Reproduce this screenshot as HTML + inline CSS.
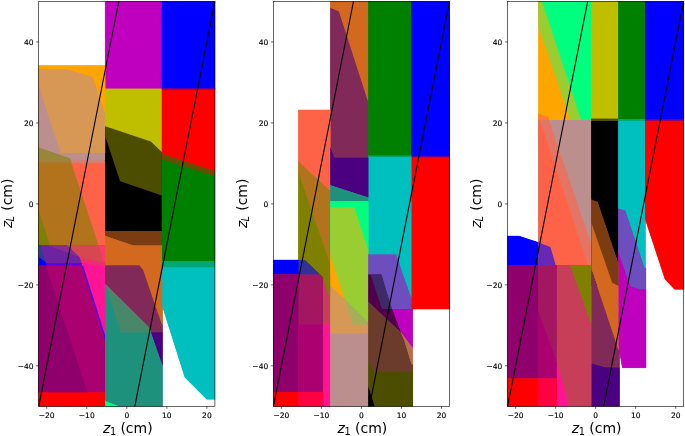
<!DOCTYPE html>
<html><head><meta charset="utf-8"><title>zL vs z1</title>
<style>
html,body{margin:0;padding:0;background:#fff;}
svg{display:block;}
text{font-family:"DejaVu Sans","Liberation Sans",sans-serif;fill:#000;}
.t{font-size:7.5px;stroke:#000;stroke-width:0.15px;}
.l{font-size:14px;}
</style></head><body>
<svg width="685" height="436" viewBox="0 0 685 436">
<rect width="685" height="436" fill="#fff"/>
<defs><mask id="u" maskUnits="userSpaceOnUse" x="0" y="0" width="685" height="436"><g fill="#fff" stroke="#fff" stroke-width="0.5">
<polygon points="105.25,1.5 161.85,1.5 161.85,88.7 105.25,88.7"/>
<polygon points="161.85,1.5 214.9,1.5 214.9,88.7 161.85,88.7"/>
<polygon points="38.7,65.6 105.25,65.6 105.25,152.9 38.7,152.9"/>
<polygon points="38.7,68.9 66.7,68.9 92.8,77 105.25,113.7 105.25,152.9 60.8,152.9 38.7,85.8"/>
<polygon points="38.7,85.8 60.8,152.9 105.25,152.9 105.25,160.5 38.7,160.5"/>
<polygon points="38.7,160.5 105.25,160.5 105.25,162.9 38.7,162.9"/>
<polygon points="38.7,162.9 105.25,162.9 105.25,244.9 38.7,244.9"/>
<polygon points="66.6,244.9 105.25,244.9 105.25,338 79.3,257.1"/>
<polygon points="38.7,147.6 70.3,158.2 71,160.5 38.7,160.5"/>
<polygon points="38.7,160.5 71,160.5 71.4,162.9 38.7,162.9"/>
<polygon points="38.7,162.9 71.4,162.9 98.5,244.9 38.7,244.9"/>
<polygon points="98.5,244.9 105.25,244.9 105.25,263.2 103.3,262.6"/>
<polygon points="79.5,257.5 103.3,262.6 105.25,263.2 105.25,267 81.5,262.5"/>
<polygon points="66.6,244.9 98.5,244.9 103.3,262.6 79.5,257.5"/>
<polygon points="38.7,210.5 49.7,244.9 38.7,244.9"/>
<polygon points="38.7,255 47.5,262.5 47.5,265.7 38.7,265.7"/>
<polygon points="38.7,244.9 40.6,244.9 45.7,262.2 38.7,257"/>
<polygon points="40.6,244.9 66.6,244.9 79.3,257.1 81.5,263.2 46,263.2"/>
<polygon points="47,244.9 66.6,244.9 79.3,257.1"/>
<polygon points="46,263.2 82,263.2 82,265.7 46,265.7"/>
<polygon points="38.7,265.7 82.2,265.7 105.25,338 105.25,392.4 38.7,392.4"/>
<polygon points="81.7,265.7 83.2,265.7 105.25,335.5 105.25,339.5 104.6,339.5"/>
<polygon points="38.7,265.7 46,265.7 87.3,391.7 87.3,392.4 38.7,392.4"/>
<polygon points="38.7,392.4 105.25,392.4 105.25,406.3 38.7,406.3"/>
<polygon points="105.25,88.7 161.85,88.7 161.85,153 105.25,153"/>
<polygon points="105.25,127 150.8,142.5 161.85,153 161.85,230.9 105.25,230.9"/>
<polygon points="105.25,126.3 150.8,141.5 161.85,152 161.85,195.4 120.1,181.2 105.25,136.3"/>
<polygon points="161.85,88.7 214.9,88.7 214.9,171.3 161.85,153.8"/>
<polygon points="161.85,88 214.9,88 214.9,89.5 161.85,89.5"/>
<polygon points="161.85,153.8 214.9,171.3 214.9,176.5 161.85,159.6"/>
<polygon points="161.85,159.6 214.9,176.5 214.9,261.2 161.85,261.2"/>
<polygon points="105.25,230.9 161.85,230.9 161.85,245.4 133.3,245.4 105.25,236.1"/>
<polygon points="105.25,236.1 133.3,245.4 161.85,245.4 161.85,261.2 162.5,261.2 162.5,326.3 156.6,310 143,270 139.4,265.5 105.25,265.5"/>
<polygon points="105.25,265.5 139.4,265.5 143,270 156.6,310 162.5,326.3 162.5,332.4 151.2,332.4 149.7,327.9 105.25,284"/>
<polygon points="105.25,284 149.7,327.9 151.2,332.4 120.7,332.4"/>
<polygon points="105.25,284 120.7,332.4 151.2,332.4 162.5,365 162.5,406.3 105.25,406.3"/>
<polygon points="151.2,332.4 162.5,332.4 162.5,365"/>
<polygon points="105.25,400.9 119.3,406.3 105.25,406.3"/>
<polygon points="161.85,261.2 214.9,261.2 214.9,267.6 161.85,267.6"/>
<polygon points="162.3,267.6 214.9,267.6 214.9,399.2 206.8,399.2 184.9,377.3 162.3,305.9"/>
<polygon points="330.4,1.5 368.3,1.5 368.3,103 338.8,11.4 330.4,7.9"/>
<polygon points="330.4,7.9 338.8,11.4 368.3,103 368.3,157.7 334.2,157.7 330.4,147.5"/>
<polygon points="368.3,1.5 411.3,1.5 411.3,156.3 368.3,156.3"/>
<polygon points="411.3,1.5 449.5,1.5 449.5,156.5 411.3,156.5"/>
<polygon points="411.3,156.5 449.5,156.5 449.5,309.1 411.3,309.1"/>
<polygon points="411.3,155.8 449.5,155.8 449.5,157.2 411.3,157.2"/>
<polygon points="368.3,156.3 411.3,156.3 411.3,298.4 396.1,254.4 368.3,254.4"/>
<polygon points="368.3,155.6 411.3,155.6 411.3,157 368.3,157"/>
<polygon points="298.4,109.9 330.4,109.9 330.4,191 298.4,161.5"/>
<polygon points="298.4,161.5 330.4,191 330.4,265 298.4,172.8"/>
<polygon points="298.4,274.2 323.2,274.2 323.2,324.5 298.4,324.5"/>
<polygon points="323.2,274.2 330.4,274.2 330.4,324.5 323.2,324.5"/>
<polygon points="298.4,260 305.4,260 320.5,274.2 298.4,274.2"/>
<polygon points="298.4,172.8 330.4,265 330.4,300 322.8,277.1 305.4,260 298.4,260"/>
<polygon points="273.4,260 298.4,260 298.4,274.2 273.4,274.2"/>
<polygon points="273.4,274.2 298.4,274.2 298.4,392 273.4,392"/>
<polygon points="298.4,324.5 323.2,324.5 323.2,392 298.4,392"/>
<polygon points="323.2,324.5 330.4,324.5 330.4,406.3 323.2,406.3"/>
<polygon points="273.4,392 298.4,392 298.4,406.3 273.4,406.3"/>
<polygon points="298.4,392 323.2,392 323.2,406.3 298.4,406.3"/>
<polygon points="330.4,147.5 334.2,157.7 368.3,157.7 368.3,197.4 330.4,185.2"/>
<polygon points="330.4,185.2 368.3,197.4 368.3,201.2 330.4,201.2"/>
<polygon points="330.4,201.2 368.3,201.2 368.3,250.4 330.4,250.4"/>
<polygon points="330.4,207.2 354.3,207.2 368.3,250.4 368.3,322.7 344.7,299 330.4,257"/>
<polygon points="330.4,257 344.7,299 330.4,285.9"/>
<polygon points="330.4,285.9 344.7,299 353.1,324.5 368.3,324.5 368.3,333.6 330.4,333.6"/>
<polygon points="344.7,299 368.3,322.7 368.3,324.5 353.1,324.5"/>
<polygon points="330.4,333.6 368.3,333.6 368.3,406.3 330.4,406.3"/>
<polygon points="368.3,254.4 396.1,254.4 411.3,298.4 411.3,309 368.3,309"/>
<polygon points="392,309 412.6,309 412.6,348 400.8,332.3"/>
<polygon points="368.3,274.5 381,274.5 391.5,309 392,309 400.8,332.3 368.3,302.1"/>
<polygon points="370.6,274.5 381.5,274.5 392,309 382,309"/>
<polygon points="368.3,302.1 400.8,332.3 404.2,340 411.5,364.2 412.8,364.2 412.8,371.6 373.4,371.6 368.3,359.8"/>
<polygon points="400.8,332.3 412.6,348 412.8,364.2 411.5,364.2 404.2,340"/>
<polygon points="368.3,359.8 373.4,371.6 412.8,371.6 412.8,406.3 374.5,406.3 368.3,387"/>
<polygon points="368.3,387 374.5,406.3 368.3,406.3"/>
<polygon points="538.5,1.5 591.3,1.5 591.3,119.9 538.5,119.9"/>
<polygon points="541,1.5 591.3,1.5 591.3,119.9 571,119.9 539.5,29"/>
<polygon points="538.5,1.5 542,1.5 581.1,119.9 570.2,119.9 538.5,26.3"/>
<polygon points="591.3,1.5 618.3,1.5 618.3,119 591.3,119"/>
<polygon points="618.3,1.5 645,1.5 645,119.4 618.3,119.4"/>
<polygon points="645,1.5 683.7,1.5 683.7,119.5 645,119.5"/>
<polygon points="538.5,113.8 548.2,117 549,119.9 538.5,119.9"/>
<polygon points="538.5,119.9 591.3,119.9 591.3,265 538.5,265"/>
<polygon points="538.5,119.9 540.3,119.9 588.3,265 538.5,265"/>
<polygon points="540.3,119.9 549,119.9 591.3,244.3 591.3,265 588.3,265"/>
<polygon points="591.3,121 618.3,121 618.3,286 591.3,286"/>
<polygon points="591.3,118.6 618.3,118.6 618.3,121 591.3,121"/>
<polygon points="618.3,120.5 645.2,120.5 645.5,268 644.5,268 625.4,210.8 618.3,208.6"/>
<polygon points="618.3,119 645,119 645,120.6 618.3,120.6"/>
<polygon points="645.2,120.3 683.7,120.3 683.7,289.3 674.6,289.3 665,279 645.2,218.9"/>
<polygon points="645,119 683.7,119 683.7,120.6 645,120.6"/>
<polygon points="618.3,208.6 625.4,210.8 644.5,268 645.9,268 645.9,289.3 639.3,289.3 630.5,286.4 618.3,252.6"/>
<polygon points="618.3,252.6 630.5,286.4 639.3,289.3 646,289.3 646,367.8 622.4,367.8 618.3,345"/>
<polygon points="591.3,200 597.5,202.3 618.3,264 618.3,350 591.3,269.3"/>
<polygon points="591.3,199.4 597.5,201.7 618.3,263 618.3,285.7 612.2,282.7 591.3,222.6"/>
<polygon points="591.3,269.3 618.3,350 619.5,350 619.5,367.8 605.1,367.4 591.3,363.4"/>
<polygon points="591.3,363.4 605.1,367.4 619.5,367.8 619.5,406.3 591.3,406.3"/>
<polygon points="507.6,236.1 518.9,236.1 538.5,242.5 538.5,265 507.6,265"/>
<polygon points="538.5,242.5 550.4,246.9 555.7,265 538.5,265"/>
<polygon points="507.6,265 538.5,265 538.5,378.5 507.6,378.5"/>
<polygon points="538.5,265 556.9,265 556.9,362.5 538.5,311.8"/>
<polygon points="538.5,311.8 556.9,362.5 556.9,378.5 538.5,378.5"/>
<polygon points="556.9,265 570,265 591.3,323.6 591.3,406.3 568.7,406.3 556.9,362.5"/>
<polygon points="570,265 591.3,265 591.3,323.6"/>
<polygon points="556.9,362.5 568.7,406.3 556.9,406.3"/>
<polygon points="507.6,378.5 538.5,378.5 538.5,406.3 507.6,406.3"/>
<polygon points="538.5,378.5 556.9,378.5 556.9,406.3 538.5,406.3"/>
</g></mask></defs>
<g mask="url(#u)" stroke-width="1.6" stroke-linejoin="round">
<polygon points="105.25,1.5 161.85,1.5 161.85,88.7 105.25,88.7" fill="#bf00bf" stroke="#bf00bf"/>
<polygon points="161.85,1.5 214.9,1.5 214.9,88.7 161.85,88.7" fill="#0000ff" stroke="#0000ff"/>
<polygon points="38.7,65.6 105.25,65.6 105.25,152.9 38.7,152.9" fill="#ffa500" stroke="#ffa500"/>
<polygon points="38.7,68.9 66.7,68.9 92.8,77 105.25,113.7 105.25,152.9 60.8,152.9 38.7,85.8" fill="#d79856" stroke="#d79856"/>
<polygon points="38.7,85.8 60.8,152.9 105.25,152.9 105.25,160.5 38.7,160.5" fill="#bc8f8f" stroke="#bc8f8f"/>
<polygon points="38.7,160.5 105.25,160.5 105.25,162.9 38.7,162.9" fill="#d77d72" stroke="#d77d72"/>
<polygon points="38.7,162.9 105.25,162.9 105.25,244.9 38.7,244.9" fill="#ff6347" stroke="#ff6347"/>
<polygon points="66.6,244.9 105.25,244.9 105.25,338 79.3,257.1" fill="#ff1493" stroke="#ff1493"/>
<polygon points="38.7,147.6 70.3,158.2 71,160.5 38.7,160.5" fill="#988639" stroke="#988639"/>
<polygon points="38.7,160.5 71,160.5 71.4,162.9 38.7,162.9" fill="#a37f2e" stroke="#a37f2e"/>
<polygon points="38.7,162.9 71.4,162.9 98.5,244.9 38.7,244.9" fill="#b1731c" stroke="#b1731c"/>
<polygon points="98.5,244.9 105.25,244.9 105.25,263.2 103.3,262.6" fill="#fa3a69" stroke="#fa3a69"/>
<polygon points="79.5,257.5 103.3,262.6 105.25,263.2 105.25,267 81.5,262.5" fill="#ee2d70" stroke="#ee2d70"/>
<polygon points="66.6,244.9 98.5,244.9 103.3,262.6 79.5,257.5" fill="#d64850" stroke="#d64850"/>
<polygon points="38.7,210.5 49.7,244.9 38.7,244.9" fill="#7f7f03" stroke="#7f7f03"/>
<polygon points="38.7,255 47.5,262.5 47.5,265.7 38.7,265.7" fill="#0000ff" stroke="#0000ff"/>
<polygon points="38.7,244.9 40.6,244.9 45.7,262.2 38.7,257" fill="#2d3c96" stroke="#2d3c96"/>
<polygon points="40.6,244.9 66.6,244.9 79.3,257.1 81.5,263.2 46,263.2" fill="#7023a0" stroke="#7023a0"/>
<polygon points="47,244.9 66.6,244.9 79.3,257.1" fill="#872d8c" stroke="#872d8c"/>
<polygon points="46,263.2 82,263.2 82,265.7 46,265.7" fill="#5a00e6" stroke="#5a00e6"/>
<polygon points="38.7,265.7 82.2,265.7 105.25,338 105.25,392.4 38.7,392.4" fill="#aa0070" stroke="#aa0070"/>
<polygon points="81.7,265.7 83.2,265.7 105.25,335.5 105.25,339.5 104.6,339.5" fill="#5a00e6" stroke="#5a00e6"/>
<polygon points="38.7,265.7 46,265.7 87.3,391.7 87.3,392.4 38.7,392.4" fill="#90006c" stroke="#90006c"/>
<polygon points="38.7,392.4 105.25,392.4 105.25,406.3 38.7,406.3" fill="#ff0000" stroke="#ff0000"/>
<polygon points="105.25,88.7 161.85,88.7 161.85,153 105.25,153" fill="#bfbf00" stroke="#bfbf00"/>
<polygon points="105.25,127 150.8,142.5 161.85,153 161.85,230.9 105.25,230.9" fill="#000000" stroke="#000000"/>
<polygon points="105.25,126.3 150.8,141.5 161.85,152 161.85,195.4 120.1,181.2 105.25,136.3" fill="#4d4d00" stroke="#4d4d00"/>
<polygon points="161.85,88.7 214.9,88.7 214.9,171.3 161.85,153.8" fill="#ff0000" stroke="#ff0000"/>
<polygon points="161.85,88 214.9,88 214.9,89.5 161.85,89.5" fill="#660099" stroke="#660099"/>
<polygon points="161.85,153.8 214.9,171.3 214.9,176.5 161.85,159.6" fill="#664d00" stroke="#664d00"/>
<polygon points="161.85,159.6 214.9,176.5 214.9,261.2 161.85,261.2" fill="#008000" stroke="#008000"/>
<polygon points="105.25,230.9 161.85,230.9 161.85,245.4 133.3,245.4 105.25,236.1" fill="#7a3c10" stroke="#7a3c10"/>
<polygon points="105.25,236.1 133.3,245.4 161.85,245.4 161.85,261.2 162.5,261.2 162.5,326.3 156.6,310 143,270 139.4,265.5 105.25,265.5" fill="#d2691e" stroke="#d2691e"/>
<polygon points="105.25,265.5 139.4,265.5 143,270 156.6,310 162.5,326.3 162.5,332.4 151.2,332.4 149.7,327.9 105.25,284" fill="#812a5a" stroke="#812a5a"/>
<polygon points="105.25,284 149.7,327.9 151.2,332.4 120.7,332.4" fill="#488868" stroke="#488868"/>
<polygon points="105.25,284 120.7,332.4 151.2,332.4 162.5,365 162.5,406.3 105.25,406.3" fill="#1e917d" stroke="#1e917d"/>
<polygon points="151.2,332.4 162.5,332.4 162.5,365" fill="#4b0082" stroke="#4b0082"/>
<polygon points="105.25,400.9 119.3,406.3 105.25,406.3" fill="#00ff7f" stroke="#00ff7f"/>
<polygon points="161.85,261.2 214.9,261.2 214.9,267.6 161.85,267.6" fill="#00a673" stroke="#00a673"/>
<polygon points="162.3,267.6 214.9,267.6 214.9,399.2 206.8,399.2 184.9,377.3 162.3,305.9" fill="#00bfbf" stroke="#00bfbf"/>
<polygon points="330.4,1.5 368.3,1.5 368.3,103 338.8,11.4 330.4,7.9" fill="#d2691e" stroke="#d2691e"/>
<polygon points="330.4,7.9 338.8,11.4 368.3,103 368.3,157.7 334.2,157.7 330.4,147.5" fill="#812a5a" stroke="#812a5a"/>
<polygon points="368.3,1.5 411.3,1.5 411.3,156.3 368.3,156.3" fill="#008000" stroke="#008000"/>
<polygon points="411.3,1.5 449.5,1.5 449.5,156.5 411.3,156.5" fill="#0000ff" stroke="#0000ff"/>
<polygon points="411.3,156.5 449.5,156.5 449.5,309.1 411.3,309.1" fill="#ff0000" stroke="#ff0000"/>
<polygon points="411.3,155.8 449.5,155.8 449.5,157.2 411.3,157.2" fill="#660099" stroke="#660099"/>
<polygon points="368.3,156.3 411.3,156.3 411.3,298.4 396.1,254.4 368.3,254.4" fill="#00bfbf" stroke="#00bfbf"/>
<polygon points="368.3,155.6 411.3,155.6 411.3,157 368.3,157" fill="#00a673" stroke="#00a673"/>
<polygon points="298.4,109.9 330.4,109.9 330.4,191 298.4,161.5" fill="#ff6347" stroke="#ff6347"/>
<polygon points="298.4,161.5 330.4,191 330.4,265 298.4,172.8" fill="#b1731c" stroke="#b1731c"/>
<polygon points="298.4,274.2 323.2,274.2 323.2,324.5 298.4,324.5" fill="#a31660" stroke="#a31660"/>
<polygon points="323.2,274.2 330.4,274.2 330.4,324.5 323.2,324.5" fill="#c63e58" stroke="#c63e58"/>
<polygon points="298.4,260 305.4,260 320.5,274.2 298.4,274.2" fill="#323296" stroke="#323296"/>
<polygon points="298.4,172.8 330.4,265 330.4,300 322.8,277.1 305.4,260 298.4,260" fill="#808000" stroke="#808000"/>
<polygon points="273.4,260 298.4,260 298.4,274.2 273.4,274.2" fill="#0000ff" stroke="#0000ff"/>
<polygon points="273.4,274.2 298.4,274.2 298.4,392 273.4,392" fill="#90006c" stroke="#90006c"/>
<polygon points="298.4,324.5 323.2,324.5 323.2,392 298.4,392" fill="#aa0070" stroke="#aa0070"/>
<polygon points="323.2,324.5 330.4,324.5 330.4,406.3 323.2,406.3" fill="#ff1493" stroke="#ff1493"/>
<polygon points="273.4,392 298.4,392 298.4,406.3 273.4,406.3" fill="#ff0000" stroke="#ff0000"/>
<polygon points="298.4,392 323.2,392 323.2,406.3 298.4,406.3" fill="#ff0040" stroke="#ff0040"/>
<polygon points="330.4,147.5 334.2,157.7 368.3,157.7 368.3,197.4 330.4,185.2" fill="#4b0082" stroke="#4b0082"/>
<polygon points="330.4,185.2 368.3,197.4 368.3,201.2 330.4,201.2" fill="#1e917d" stroke="#1e917d"/>
<polygon points="330.4,201.2 368.3,201.2 368.3,250.4 330.4,250.4" fill="#00ff7f" stroke="#00ff7f"/>
<polygon points="330.4,207.2 354.3,207.2 368.3,250.4 368.3,322.7 344.7,299 330.4,257" fill="#9acd32" stroke="#9acd32"/>
<polygon points="330.4,257 344.7,299 330.4,285.9" fill="#ffa500" stroke="#ffa500"/>
<polygon points="330.4,285.9 344.7,299 353.1,324.5 368.3,324.5 368.3,333.6 330.4,333.6" fill="#d79856" stroke="#d79856"/>
<polygon points="344.7,299 368.3,322.7 368.3,324.5 353.1,324.5" fill="#a5af5a" stroke="#a5af5a"/>
<polygon points="330.4,333.6 368.3,333.6 368.3,406.3 330.4,406.3" fill="#bc8f8f" stroke="#bc8f8f"/>
<polygon points="368.3,254.4 396.1,254.4 411.3,298.4 411.3,309 368.3,309" fill="#6e4ebe" stroke="#6e4ebe"/>
<polygon points="392,309 412.6,309 412.6,348 400.8,332.3" fill="#bf00bf" stroke="#bf00bf"/>
<polygon points="368.3,274.5 381,274.5 391.5,309 392,309 400.8,332.3 368.3,302.1" fill="#50004b" stroke="#50004b"/>
<polygon points="370.6,274.5 381.5,274.5 392,309 382,309" fill="#3c2a69" stroke="#3c2a69"/>
<polygon points="368.3,302.1 400.8,332.3 404.2,340 411.5,364.2 412.8,364.2 412.8,371.6 373.4,371.6 368.3,359.8" fill="#6b3c2b" stroke="#6b3c2b"/>
<polygon points="400.8,332.3 412.6,348 412.8,364.2 411.5,364.2 404.2,340" fill="#b96e4b" stroke="#b96e4b"/>
<polygon points="368.3,359.8 373.4,371.6 412.8,371.6 412.8,406.3 374.5,406.3 368.3,387" fill="#4d4d00" stroke="#4d4d00"/>
<polygon points="368.3,387 374.5,406.3 368.3,406.3" fill="#000000" stroke="#000000"/>
<polygon points="538.5,1.5 591.3,1.5 591.3,119.9 538.5,119.9" fill="#ffa500" stroke="#ffa500"/>
<polygon points="541,1.5 591.3,1.5 591.3,119.9 571,119.9 539.5,29" fill="#00ff7f" stroke="#00ff7f"/>
<polygon points="538.5,1.5 542,1.5 581.1,119.9 570.2,119.9 538.5,26.3" fill="#9acd32" stroke="#9acd32"/>
<polygon points="591.3,1.5 618.3,1.5 618.3,119 591.3,119" fill="#bfbf00" stroke="#bfbf00"/>
<polygon points="618.3,1.5 645,1.5 645,119.4 618.3,119.4" fill="#008000" stroke="#008000"/>
<polygon points="645,1.5 683.7,1.5 683.7,119.5 645,119.5" fill="#0000ff" stroke="#0000ff"/>
<polygon points="538.5,113.8 548.2,117 549,119.9 538.5,119.9" fill="#ff7d2b" stroke="#ff7d2b"/>
<polygon points="538.5,119.9 591.3,119.9 591.3,265 538.5,265" fill="#bc8f8f" stroke="#bc8f8f"/>
<polygon points="538.5,119.9 540.3,119.9 588.3,265 538.5,265" fill="#ff6347" stroke="#ff6347"/>
<polygon points="540.3,119.9 549,119.9 591.3,244.3 591.3,265 588.3,265" fill="#e47464" stroke="#e47464"/>
<polygon points="591.3,121 618.3,121 618.3,286 591.3,286" fill="#000000" stroke="#000000"/>
<polygon points="591.3,118.6 618.3,118.6 618.3,121 591.3,121" fill="#4d4d00" stroke="#4d4d00"/>
<polygon points="618.3,120.5 645.2,120.5 645.5,268 644.5,268 625.4,210.8 618.3,208.6" fill="#00bfbf" stroke="#00bfbf"/>
<polygon points="618.3,119 645,119 645,120.6 618.3,120.6" fill="#00a673" stroke="#00a673"/>
<polygon points="645.2,120.3 683.7,120.3 683.7,289.3 674.6,289.3 665,279 645.2,218.9" fill="#ff0000" stroke="#ff0000"/>
<polygon points="645,119 683.7,119 683.7,120.6 645,120.6" fill="#660099" stroke="#660099"/>
<polygon points="618.3,208.6 625.4,210.8 644.5,268 645.9,268 645.9,289.3 639.3,289.3 630.5,286.4 618.3,252.6" fill="#6e4ebe" stroke="#6e4ebe"/>
<polygon points="618.3,252.6 630.5,286.4 639.3,289.3 646,289.3 646,367.8 622.4,367.8 618.3,345" fill="#bf00bf" stroke="#bf00bf"/>
<polygon points="591.3,200 597.5,202.3 618.3,264 618.3,350 591.3,269.3" fill="#d2691e" stroke="#d2691e"/>
<polygon points="591.3,199.4 597.5,201.7 618.3,263 618.3,285.7 612.2,282.7 591.3,222.6" fill="#7a3c10" stroke="#7a3c10"/>
<polygon points="591.3,269.3 618.3,350 619.5,350 619.5,367.8 605.1,367.4 591.3,363.4" fill="#812a5a" stroke="#812a5a"/>
<polygon points="591.3,363.4 605.1,367.4 619.5,367.8 619.5,406.3 591.3,406.3" fill="#4b0082" stroke="#4b0082"/>
<polygon points="507.6,236.1 518.9,236.1 538.5,242.5 538.5,265 507.6,265" fill="#0000ff" stroke="#0000ff"/>
<polygon points="538.5,242.5 550.4,246.9 555.7,265 538.5,265" fill="#6628b5" stroke="#6628b5"/>
<polygon points="507.6,265 538.5,265 538.5,378.5 507.6,378.5" fill="#90006c" stroke="#90006c"/>
<polygon points="538.5,265 556.9,265 556.9,362.5 538.5,311.8" fill="#a31660" stroke="#a31660"/>
<polygon points="538.5,311.8 556.9,362.5 556.9,378.5 538.5,378.5" fill="#aa0070" stroke="#aa0070"/>
<polygon points="556.9,265 570,265 591.3,323.6 591.3,406.3 568.7,406.3 556.9,362.5" fill="#c63e58" stroke="#c63e58"/>
<polygon points="570,265 591.3,265 591.3,323.6" fill="#808000" stroke="#808000"/>
<polygon points="556.9,362.5 568.7,406.3 556.9,406.3" fill="#ff1493" stroke="#ff1493"/>
<polygon points="507.6,378.5 538.5,378.5 538.5,406.3 507.6,406.3" fill="#ff0000" stroke="#ff0000"/>
<polygon points="538.5,378.5 556.9,378.5 556.9,406.3 538.5,406.3" fill="#ff0040" stroke="#ff0040"/>
</g>
<g>
<polygon points="105.25,1.5 161.85,1.5 161.85,88.7 105.25,88.7" fill="#bf00bf"/>
<polygon points="161.85,1.5 214.9,1.5 214.9,88.7 161.85,88.7" fill="#0000ff"/>
<polygon points="38.7,65.6 105.25,65.6 105.25,152.9 38.7,152.9" fill="#ffa500"/>
<polygon points="38.7,68.9 66.7,68.9 92.8,77 105.25,113.7 105.25,152.9 60.8,152.9 38.7,85.8" fill="#d79856"/>
<polygon points="38.7,85.8 60.8,152.9 105.25,152.9 105.25,160.5 38.7,160.5" fill="#bc8f8f"/>
<polygon points="38.7,160.5 105.25,160.5 105.25,162.9 38.7,162.9" fill="#d77d72"/>
<polygon points="38.7,162.9 105.25,162.9 105.25,244.9 38.7,244.9" fill="#ff6347"/>
<polygon points="66.6,244.9 105.25,244.9 105.25,338 79.3,257.1" fill="#ff1493"/>
<polygon points="38.7,147.6 70.3,158.2 71,160.5 38.7,160.5" fill="#988639"/>
<polygon points="38.7,160.5 71,160.5 71.4,162.9 38.7,162.9" fill="#a37f2e"/>
<polygon points="38.7,162.9 71.4,162.9 98.5,244.9 38.7,244.9" fill="#b1731c"/>
<polygon points="98.5,244.9 105.25,244.9 105.25,263.2 103.3,262.6" fill="#fa3a69"/>
<polygon points="79.5,257.5 103.3,262.6 105.25,263.2 105.25,267 81.5,262.5" fill="#ee2d70"/>
<polygon points="66.6,244.9 98.5,244.9 103.3,262.6 79.5,257.5" fill="#d64850"/>
<polygon points="38.7,210.5 49.7,244.9 38.7,244.9" fill="#7f7f03"/>
<polygon points="38.7,255 47.5,262.5 47.5,265.7 38.7,265.7" fill="#0000ff"/>
<polygon points="38.7,244.9 40.6,244.9 45.7,262.2 38.7,257" fill="#2d3c96"/>
<polygon points="40.6,244.9 66.6,244.9 79.3,257.1 81.5,263.2 46,263.2" fill="#7023a0"/>
<polygon points="47,244.9 66.6,244.9 79.3,257.1" fill="#872d8c"/>
<polygon points="46,263.2 82,263.2 82,265.7 46,265.7" fill="#5a00e6"/>
<polygon points="38.7,265.7 82.2,265.7 105.25,338 105.25,392.4 38.7,392.4" fill="#aa0070"/>
<polygon points="81.7,265.7 83.2,265.7 105.25,335.5 105.25,339.5 104.6,339.5" fill="#5a00e6"/>
<polygon points="38.7,265.7 46,265.7 87.3,391.7 87.3,392.4 38.7,392.4" fill="#90006c"/>
<polygon points="38.7,392.4 105.25,392.4 105.25,406.3 38.7,406.3" fill="#ff0000"/>
<polygon points="105.25,88.7 161.85,88.7 161.85,153 105.25,153" fill="#bfbf00"/>
<polygon points="105.25,127 150.8,142.5 161.85,153 161.85,230.9 105.25,230.9" fill="#000000"/>
<polygon points="105.25,126.3 150.8,141.5 161.85,152 161.85,195.4 120.1,181.2 105.25,136.3" fill="#4d4d00"/>
<polygon points="161.85,88.7 214.9,88.7 214.9,171.3 161.85,153.8" fill="#ff0000"/>
<polygon points="161.85,88 214.9,88 214.9,89.5 161.85,89.5" fill="#660099"/>
<polygon points="161.85,153.8 214.9,171.3 214.9,176.5 161.85,159.6" fill="#664d00"/>
<polygon points="161.85,159.6 214.9,176.5 214.9,261.2 161.85,261.2" fill="#008000"/>
<polygon points="105.25,230.9 161.85,230.9 161.85,245.4 133.3,245.4 105.25,236.1" fill="#7a3c10"/>
<polygon points="105.25,236.1 133.3,245.4 161.85,245.4 161.85,261.2 162.5,261.2 162.5,326.3 156.6,310 143,270 139.4,265.5 105.25,265.5" fill="#d2691e"/>
<polygon points="105.25,265.5 139.4,265.5 143,270 156.6,310 162.5,326.3 162.5,332.4 151.2,332.4 149.7,327.9 105.25,284" fill="#812a5a"/>
<polygon points="105.25,284 149.7,327.9 151.2,332.4 120.7,332.4" fill="#488868"/>
<polygon points="105.25,284 120.7,332.4 151.2,332.4 162.5,365 162.5,406.3 105.25,406.3" fill="#1e917d"/>
<polygon points="151.2,332.4 162.5,332.4 162.5,365" fill="#4b0082"/>
<polygon points="105.25,400.9 119.3,406.3 105.25,406.3" fill="#00ff7f"/>
<polygon points="161.85,261.2 214.9,261.2 214.9,267.6 161.85,267.6" fill="#00a673"/>
<polygon points="162.3,267.6 214.9,267.6 214.9,399.2 206.8,399.2 184.9,377.3 162.3,305.9" fill="#00bfbf"/>
<polygon points="330.4,1.5 368.3,1.5 368.3,103 338.8,11.4 330.4,7.9" fill="#d2691e"/>
<polygon points="330.4,7.9 338.8,11.4 368.3,103 368.3,157.7 334.2,157.7 330.4,147.5" fill="#812a5a"/>
<polygon points="368.3,1.5 411.3,1.5 411.3,156.3 368.3,156.3" fill="#008000"/>
<polygon points="411.3,1.5 449.5,1.5 449.5,156.5 411.3,156.5" fill="#0000ff"/>
<polygon points="411.3,156.5 449.5,156.5 449.5,309.1 411.3,309.1" fill="#ff0000"/>
<polygon points="411.3,155.8 449.5,155.8 449.5,157.2 411.3,157.2" fill="#660099"/>
<polygon points="368.3,156.3 411.3,156.3 411.3,298.4 396.1,254.4 368.3,254.4" fill="#00bfbf"/>
<polygon points="368.3,155.6 411.3,155.6 411.3,157 368.3,157" fill="#00a673"/>
<polygon points="298.4,109.9 330.4,109.9 330.4,191 298.4,161.5" fill="#ff6347"/>
<polygon points="298.4,161.5 330.4,191 330.4,265 298.4,172.8" fill="#b1731c"/>
<polygon points="298.4,274.2 323.2,274.2 323.2,324.5 298.4,324.5" fill="#a31660"/>
<polygon points="323.2,274.2 330.4,274.2 330.4,324.5 323.2,324.5" fill="#c63e58"/>
<polygon points="298.4,260 305.4,260 320.5,274.2 298.4,274.2" fill="#323296"/>
<polygon points="298.4,172.8 330.4,265 330.4,300 322.8,277.1 305.4,260 298.4,260" fill="#808000"/>
<polygon points="273.4,260 298.4,260 298.4,274.2 273.4,274.2" fill="#0000ff"/>
<polygon points="273.4,274.2 298.4,274.2 298.4,392 273.4,392" fill="#90006c"/>
<polygon points="298.4,324.5 323.2,324.5 323.2,392 298.4,392" fill="#aa0070"/>
<polygon points="323.2,324.5 330.4,324.5 330.4,406.3 323.2,406.3" fill="#ff1493"/>
<polygon points="273.4,392 298.4,392 298.4,406.3 273.4,406.3" fill="#ff0000"/>
<polygon points="298.4,392 323.2,392 323.2,406.3 298.4,406.3" fill="#ff0040"/>
<polygon points="330.4,147.5 334.2,157.7 368.3,157.7 368.3,197.4 330.4,185.2" fill="#4b0082"/>
<polygon points="330.4,185.2 368.3,197.4 368.3,201.2 330.4,201.2" fill="#1e917d"/>
<polygon points="330.4,201.2 368.3,201.2 368.3,250.4 330.4,250.4" fill="#00ff7f"/>
<polygon points="330.4,207.2 354.3,207.2 368.3,250.4 368.3,322.7 344.7,299 330.4,257" fill="#9acd32"/>
<polygon points="330.4,257 344.7,299 330.4,285.9" fill="#ffa500"/>
<polygon points="330.4,285.9 344.7,299 353.1,324.5 368.3,324.5 368.3,333.6 330.4,333.6" fill="#d79856"/>
<polygon points="344.7,299 368.3,322.7 368.3,324.5 353.1,324.5" fill="#a5af5a"/>
<polygon points="330.4,333.6 368.3,333.6 368.3,406.3 330.4,406.3" fill="#bc8f8f"/>
<polygon points="368.3,254.4 396.1,254.4 411.3,298.4 411.3,309 368.3,309" fill="#6e4ebe"/>
<polygon points="392,309 412.6,309 412.6,348 400.8,332.3" fill="#bf00bf"/>
<polygon points="368.3,274.5 381,274.5 391.5,309 392,309 400.8,332.3 368.3,302.1" fill="#50004b"/>
<polygon points="370.6,274.5 381.5,274.5 392,309 382,309" fill="#3c2a69"/>
<polygon points="368.3,302.1 400.8,332.3 404.2,340 411.5,364.2 412.8,364.2 412.8,371.6 373.4,371.6 368.3,359.8" fill="#6b3c2b"/>
<polygon points="400.8,332.3 412.6,348 412.8,364.2 411.5,364.2 404.2,340" fill="#b96e4b"/>
<polygon points="368.3,359.8 373.4,371.6 412.8,371.6 412.8,406.3 374.5,406.3 368.3,387" fill="#4d4d00"/>
<polygon points="368.3,387 374.5,406.3 368.3,406.3" fill="#000000"/>
<polygon points="538.5,1.5 591.3,1.5 591.3,119.9 538.5,119.9" fill="#ffa500"/>
<polygon points="541,1.5 591.3,1.5 591.3,119.9 571,119.9 539.5,29" fill="#00ff7f"/>
<polygon points="538.5,1.5 542,1.5 581.1,119.9 570.2,119.9 538.5,26.3" fill="#9acd32"/>
<polygon points="591.3,1.5 618.3,1.5 618.3,119 591.3,119" fill="#bfbf00"/>
<polygon points="618.3,1.5 645,1.5 645,119.4 618.3,119.4" fill="#008000"/>
<polygon points="645,1.5 683.7,1.5 683.7,119.5 645,119.5" fill="#0000ff"/>
<polygon points="538.5,113.8 548.2,117 549,119.9 538.5,119.9" fill="#ff7d2b"/>
<polygon points="538.5,119.9 591.3,119.9 591.3,265 538.5,265" fill="#bc8f8f"/>
<polygon points="538.5,119.9 540.3,119.9 588.3,265 538.5,265" fill="#ff6347"/>
<polygon points="540.3,119.9 549,119.9 591.3,244.3 591.3,265 588.3,265" fill="#e47464"/>
<polygon points="591.3,121 618.3,121 618.3,286 591.3,286" fill="#000000"/>
<polygon points="591.3,118.6 618.3,118.6 618.3,121 591.3,121" fill="#4d4d00"/>
<polygon points="618.3,120.5 645.2,120.5 645.5,268 644.5,268 625.4,210.8 618.3,208.6" fill="#00bfbf"/>
<polygon points="618.3,119 645,119 645,120.6 618.3,120.6" fill="#00a673"/>
<polygon points="645.2,120.3 683.7,120.3 683.7,289.3 674.6,289.3 665,279 645.2,218.9" fill="#ff0000"/>
<polygon points="645,119 683.7,119 683.7,120.6 645,120.6" fill="#660099"/>
<polygon points="618.3,208.6 625.4,210.8 644.5,268 645.9,268 645.9,289.3 639.3,289.3 630.5,286.4 618.3,252.6" fill="#6e4ebe"/>
<polygon points="618.3,252.6 630.5,286.4 639.3,289.3 646,289.3 646,367.8 622.4,367.8 618.3,345" fill="#bf00bf"/>
<polygon points="591.3,200 597.5,202.3 618.3,264 618.3,350 591.3,269.3" fill="#d2691e"/>
<polygon points="591.3,199.4 597.5,201.7 618.3,263 618.3,285.7 612.2,282.7 591.3,222.6" fill="#7a3c10"/>
<polygon points="591.3,269.3 618.3,350 619.5,350 619.5,367.8 605.1,367.4 591.3,363.4" fill="#812a5a"/>
<polygon points="591.3,363.4 605.1,367.4 619.5,367.8 619.5,406.3 591.3,406.3" fill="#4b0082"/>
<polygon points="507.6,236.1 518.9,236.1 538.5,242.5 538.5,265 507.6,265" fill="#0000ff"/>
<polygon points="538.5,242.5 550.4,246.9 555.7,265 538.5,265" fill="#6628b5"/>
<polygon points="507.6,265 538.5,265 538.5,378.5 507.6,378.5" fill="#90006c"/>
<polygon points="538.5,265 556.9,265 556.9,362.5 538.5,311.8" fill="#a31660"/>
<polygon points="538.5,311.8 556.9,362.5 556.9,378.5 538.5,378.5" fill="#aa0070"/>
<polygon points="556.9,265 570,265 591.3,323.6 591.3,406.3 568.7,406.3 556.9,362.5" fill="#c63e58"/>
<polygon points="570,265 591.3,265 591.3,323.6" fill="#808000"/>
<polygon points="556.9,362.5 568.7,406.3 556.9,406.3" fill="#ff1493"/>
<polygon points="507.6,378.5 538.5,378.5 538.5,406.3 507.6,406.3" fill="#ff0000"/>
<polygon points="538.5,378.5 556.9,378.5 556.9,406.3 538.5,406.3" fill="#ff0040"/>
</g>
<g stroke="#000" stroke-width="1.1" fill="none"><line x1="38.70" y1="406.30" x2="118.79" y2="1.50"/><line x1="134.81" y1="406.30" x2="214.90" y2="1.50"/></g>
<rect x="38.70" y="1.50" width="176.20" height="404.80" fill="none" stroke="#000" stroke-width="0.6"/>
<g stroke="#000" stroke-width="0.6"><line x1="46.71" y1="406.30" x2="46.71" y2="408.90"/><line x1="86.75" y1="406.30" x2="86.75" y2="408.90"/><line x1="126.80" y1="406.30" x2="126.80" y2="408.90"/><line x1="166.85" y1="406.30" x2="166.85" y2="408.90"/><line x1="206.89" y1="406.30" x2="206.89" y2="408.90"/><line x1="36.10" y1="365.82" x2="38.70" y2="365.82"/><line x1="36.10" y1="284.86" x2="38.70" y2="284.86"/><line x1="36.10" y1="203.90" x2="38.70" y2="203.90"/><line x1="36.10" y1="122.94" x2="38.70" y2="122.94"/><line x1="36.10" y1="41.98" x2="38.70" y2="41.98"/></g>
<text class="t" x="46.71" y="417.9" text-anchor="middle">−20</text><text class="t" x="86.75" y="417.9" text-anchor="middle">−10</text><text class="t" x="126.80" y="417.9" text-anchor="middle">0</text><text class="t" x="166.85" y="417.9" text-anchor="middle">10</text><text class="t" x="206.89" y="417.9" text-anchor="middle">20</text><text class="t" x="33.50" y="368.57" text-anchor="end">−40</text><text class="t" x="33.50" y="287.61" text-anchor="end">−20</text><text class="t" x="33.50" y="206.65" text-anchor="end">0</text><text class="t" x="33.50" y="125.69" text-anchor="end">20</text><text class="t" x="33.50" y="44.73" text-anchor="end">40</text>
<text class="l" y="432.7"><tspan x="102.90" font-style="italic">z</tspan><tspan x="109.90" y="434.6" font-size="9.8px">1</tspan><tspan x="120.40" y="432.7">(cm)</tspan></text>
<text class="l" transform="translate(12.40,203.90) rotate(-90)" y="0"><tspan x="-24.2" font-style="italic">z</tspan><tspan x="-17.6" y="1.9" font-size="9.8px" font-style="italic">L</tspan><tspan x="-6.9" y="0">(cm)</tspan></text>
<g stroke="#000" stroke-width="1.1" fill="none"><line x1="273.40" y1="406.30" x2="353.45" y2="1.50"/><line x1="369.45" y1="406.30" x2="449.50" y2="1.50"/></g>
<rect x="273.40" y="1.50" width="176.10" height="404.80" fill="none" stroke="#000" stroke-width="0.6"/>
<g stroke="#000" stroke-width="0.6"><line x1="281.40" y1="406.30" x2="281.40" y2="408.90"/><line x1="321.43" y1="406.30" x2="321.43" y2="408.90"/><line x1="361.45" y1="406.30" x2="361.45" y2="408.90"/><line x1="401.47" y1="406.30" x2="401.47" y2="408.90"/><line x1="441.50" y1="406.30" x2="441.50" y2="408.90"/><line x1="270.80" y1="365.82" x2="273.40" y2="365.82"/><line x1="270.80" y1="284.86" x2="273.40" y2="284.86"/><line x1="270.80" y1="203.90" x2="273.40" y2="203.90"/><line x1="270.80" y1="122.94" x2="273.40" y2="122.94"/><line x1="270.80" y1="41.98" x2="273.40" y2="41.98"/></g>
<text class="t" x="281.40" y="417.9" text-anchor="middle">−20</text><text class="t" x="321.43" y="417.9" text-anchor="middle">−10</text><text class="t" x="361.45" y="417.9" text-anchor="middle">0</text><text class="t" x="401.47" y="417.9" text-anchor="middle">10</text><text class="t" x="441.50" y="417.9" text-anchor="middle">20</text><text class="t" x="268.20" y="368.57" text-anchor="end">−40</text><text class="t" x="268.20" y="287.61" text-anchor="end">−20</text><text class="t" x="268.20" y="206.65" text-anchor="end">0</text><text class="t" x="268.20" y="125.69" text-anchor="end">20</text><text class="t" x="268.20" y="44.73" text-anchor="end">40</text>
<text class="l" y="432.7"><tspan x="337.55" font-style="italic">z</tspan><tspan x="344.55" y="434.6" font-size="9.8px">1</tspan><tspan x="355.05" y="432.7">(cm)</tspan></text>
<text class="l" transform="translate(247.10,203.90) rotate(-90)" y="0"><tspan x="-24.2" font-style="italic">z</tspan><tspan x="-17.6" y="1.9" font-size="9.8px" font-style="italic">L</tspan><tspan x="-6.9" y="0">(cm)</tspan></text>
<g stroke="#000" stroke-width="1.1" fill="none"><line x1="507.60" y1="406.30" x2="587.65" y2="1.50"/><line x1="603.65" y1="406.30" x2="683.70" y2="1.50"/></g>
<rect x="507.60" y="1.50" width="176.10" height="404.80" fill="none" stroke="#000" stroke-width="0.6"/>
<g stroke="#000" stroke-width="0.6"><line x1="515.60" y1="406.30" x2="515.60" y2="408.90"/><line x1="555.63" y1="406.30" x2="555.63" y2="408.90"/><line x1="595.65" y1="406.30" x2="595.65" y2="408.90"/><line x1="635.67" y1="406.30" x2="635.67" y2="408.90"/><line x1="675.70" y1="406.30" x2="675.70" y2="408.90"/><line x1="505.00" y1="365.82" x2="507.60" y2="365.82"/><line x1="505.00" y1="284.86" x2="507.60" y2="284.86"/><line x1="505.00" y1="203.90" x2="507.60" y2="203.90"/><line x1="505.00" y1="122.94" x2="507.60" y2="122.94"/><line x1="505.00" y1="41.98" x2="507.60" y2="41.98"/></g>
<text class="t" x="515.60" y="417.9" text-anchor="middle">−20</text><text class="t" x="555.63" y="417.9" text-anchor="middle">−10</text><text class="t" x="595.65" y="417.9" text-anchor="middle">0</text><text class="t" x="635.67" y="417.9" text-anchor="middle">10</text><text class="t" x="675.70" y="417.9" text-anchor="middle">20</text><text class="t" x="502.40" y="368.57" text-anchor="end">−40</text><text class="t" x="502.40" y="287.61" text-anchor="end">−20</text><text class="t" x="502.40" y="206.65" text-anchor="end">0</text><text class="t" x="502.40" y="125.69" text-anchor="end">20</text><text class="t" x="502.40" y="44.73" text-anchor="end">40</text>
<text class="l" y="432.7"><tspan x="571.75" font-style="italic">z</tspan><tspan x="578.75" y="434.6" font-size="9.8px">1</tspan><tspan x="589.25" y="432.7">(cm)</tspan></text>
<text class="l" transform="translate(481.30,203.90) rotate(-90)" y="0"><tspan x="-24.2" font-style="italic">z</tspan><tspan x="-17.6" y="1.9" font-size="9.8px" font-style="italic">L</tspan><tspan x="-6.9" y="0">(cm)</tspan></text>
</svg>
</body></html>
